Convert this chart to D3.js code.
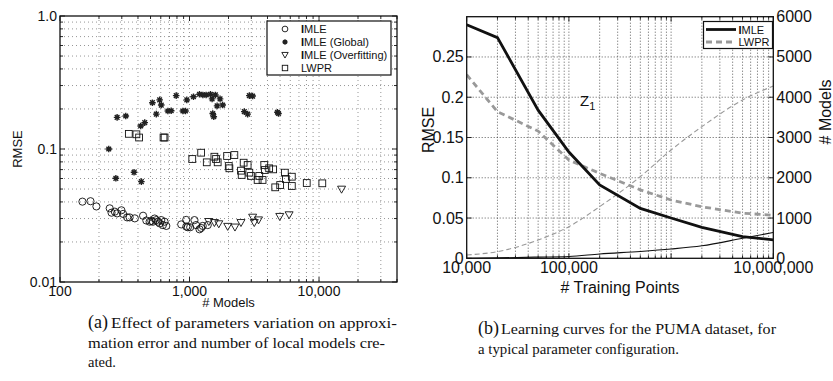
<!DOCTYPE html>
<html><head><meta charset="utf-8">
<script src="https://cdn.jsdelivr.net/npm/d3@7"></script>
<style>
body{margin:0;background:#fff;}
svg text{font-family:"Liberation Sans",Arial,sans-serif;fill:#111;}
svg text.cap{font-family:"Liberation Serif","Times New Roman",serif;}
</style></head><body>
<svg id="fig" width="833" height="381"></svg>
<script>
// ---------- panel (a): error vs number of local models ----------
const imlePoints = [[149,0.0402],[172,0.0405],[191,0.0370],[242,0.0358],[250,0.0332],[265,0.0338],[276,0.0328],[298,0.0346],[307,0.0325],[330,0.0306],[345,0.0306],[378,0.0301],[438,0.0315],[464,0.0290],[492,0.0284],[507,0.0288],[522,0.0284],[538,0.0300],[554,0.0292],[571,0.0284],[588,0.0276],[605,0.0292],[623,0.0268],[642,0.0284],[662,0.0264],[863,0.0271],[944,0.0261],[943,0.0293],[971,0.0258],[1012,0.0258],[1092,0.0292],[1124,0.0268],[1194,0.0249],[1230,0.0255],[1265,0.0264],[1383,0.0268]];
const globalPoints = [[238,0.100],[270,0.0602],[276,0.173],[322,0.177],[373,0.0668],[425,0.0568],[420,0.149],[451,0.158],[517,0.223],[554,0.183],[588,0.234],[605,0.214],[681,0.193],[722,0.194],[789,0.252],[889,0.193],[931,0.193],[953,0.234],[1073,0.247],[1194,0.258],[1268,0.255],[1344,0.255],[1451,0.258],[1494,0.238],[1511,0.185],[1539,0.175],[1585,0.255],[1633,0.211],[1721,0.238],[1804,0.214],[2649,0.191],[2811,0.183],[2897,0.252],[3072,0.250],[4775,0.189],[4864,0.185]];
const overfitPoints = [[1409,0.0284],[1556,0.0279],[1683,0.0273],[1972,0.0261],[2244,0.0258],[2497,0.0279],[3072,0.0306],[3162,0.0279],[3412,0.0292],[4977,0.0310],[5875,0.0319],[14930,0.0497]];
const lwprPoints = [[340,0.130],[389,0.129],[408,0.122],[630,0.122],[642,0.122],[1050,0.0841],[1230,0.0938],[1359,0.0794],[1556,0.0875],[1603,0.0841],[1650,0.0794],[1950,0.0886],[2009,0.0745],[2032,0.0716],[2219,0.0901],[2497,0.0687],[2528,0.0638],[2618,0.0789],[2811,0.0758],[2897,0.0664],[2982,0.0627],[3357,0.0585],[3456,0.0627],[3664,0.0585],[3776,0.0758],[3820,0.0695],[4121,0.0716],[4425,0.0703],[4590,0.0515],[5012,0.0536],[5445,0.0664],[5546,0.0595],[6166,0.0619],[6166,0.0527],[8040,0.0555],[10600,0.0552]];
const modelTicks = [100, 1000, 10000];
const modelTickLabels = ["100", "1,000", "10,000"];
const rmseLogTicks = [0.01, 0.1, 1];
const rmseLogTickLabels = ["0.01", "0.1", "1.0"];
const legendA = [
  {name: "MLE", shape: "circle"},
  {name: "MLE (Global)", shape: "star"},
  {name: "MLE (Overfitting)", shape: "triangle"},
  {name: "LWPR", shape: "square"}
];

// ---------- panel (b): learning curves ----------
const trainingPoints = [1e4, 2e4, 5e4, 1e5, 2e5, 5e5, 1e6, 2e6, 5e6, 1e7];
const imleRmse  = [0.290, 0.274, 0.184, 0.132, 0.091, 0.062, 0.050, 0.0385, 0.027, 0.0228];
const lwprRmse  = [0.228, 0.182, 0.158, 0.122, 0.1055, 0.085, 0.0724, 0.064, 0.056, 0.0535];
const imleModels = [0, 10, 30, 45, 108, 170, 230, 310, 497, 640];
const lwprModels = [83, 166, 455, 786, 1283, 2028, 2690, 3269, 3931, 4279];
const trainTicks = [1e4, 1e5, 1e7];
const trainTickLabels = ["10,000", "100,000", "10,000,000"];
const rmseTicks = [0, 0.05, 0.1, 0.15, 0.2, 0.25];
const rmseTickLabels = ["0", "0.05", "0.1", "0.15", "0.2", "0.25"];
const modelCountTicks = [0, 1000, 2000, 3000, 4000, 5000, 6000];

const svg = d3.select("#fig");

function minorLogTicks(lo, hi) {
  const out = [];
  for (let e = Math.floor(Math.log10(lo)); e <= Math.ceil(Math.log10(hi)); e++) {
    for (let m = 1; m <= 9; m++) {
      const v = m * Math.pow(10, e);
      if (v >= lo * 0.9999 && v <= hi * 1.0001) out.push(v);
    }
  }
  return out;
}

// ================= panel (a) =================
const A = {l: 60, r: 397, t: 16, b: 282};
const xA = d3.scaleLog().domain([100, 40000]).range([A.l, A.r]);
const yA = d3.scaleLog().domain([0.01, 1]).range([A.b, A.t]);
const gA = svg.append("g");

const xGridA = minorLogTicks(100, 40000);
const yGridA = minorLogTicks(0.01, 1);
gA.append("g").selectAll("line").data(xGridA.filter(v => v > 100 && v < 40000)).join("line")
  .attr("x1", d => xA(d)).attr("x2", d => xA(d)).attr("y1", A.t).attr("y2", A.b)
  .attr("stroke", "#8a8a8a").attr("stroke-width", 0.9).attr("stroke-dasharray", "1,3");
gA.append("g").selectAll("line").data(yGridA.filter(v => v > 0.01 && v < 1)).join("line")
  .attr("y1", d => yA(d)).attr("y2", d => yA(d)).attr("x1", A.l).attr("x2", A.r)
  .attr("stroke", "#8a8a8a").attr("stroke-width", 0.9).attr("stroke-dasharray", "1,3");

// inward ticks on all four sides
const tickA = gA.append("g").attr("stroke", "#111").attr("stroke-width", 0.9);
xGridA.forEach(v => {
  const len = modelTicks.includes(v) ? 5 : 3;
  tickA.append("line").attr("x1", xA(v)).attr("x2", xA(v)).attr("y1", A.b).attr("y2", A.b - len);
  tickA.append("line").attr("x1", xA(v)).attr("x2", xA(v)).attr("y1", A.t).attr("y2", A.t + len);
});
yGridA.forEach(v => {
  const len = rmseLogTicks.includes(v) ? 5 : 3;
  tickA.append("line").attr("y1", yA(v)).attr("y2", yA(v)).attr("x1", A.l).attr("x2", A.l + len);
  tickA.append("line").attr("y1", yA(v)).attr("y2", yA(v)).attr("x1", A.r).attr("x2", A.r - len);
});

// marker shapes
function drawMarker(g, shape, x, y, s) {
  s = s || 1;
  if (shape === "circle") {
    g.append("circle").attr("cx", x).attr("cy", y).attr("r", 3.6 * s)
      .attr("fill", "none").attr("stroke", "#111").attr("stroke-width", 0.9);
  } else if (shape === "square") {
    const h = 3.4 * s;
    g.append("rect").attr("x", x - h).attr("y", y - h).attr("width", 2 * h).attr("height", 2 * h)
      .attr("fill", "none").attr("stroke", "#111").attr("stroke-width", 0.9);
  } else if (shape === "triangle") {
    const h = 4 * s;
    g.append("path").attr("d", `M${x - h},${y - h * 0.8}L${x + h},${y - h * 0.8}L${x},${y + h * 0.95}Z`)
      .attr("fill", "none").attr("stroke", "#111").attr("stroke-width", 0.9);
  } else if (shape === "star") {
    const h = 3.3 * s;
    let d = "";
    for (let k = 0; k < 4; k++) {
      const a = k * Math.PI / 4;
      d += `M${x - h * Math.cos(a)},${y - h * Math.sin(a)}L${x + h * Math.cos(a)},${y + h * Math.sin(a)}`;
    }
    g.append("path").attr("d", d).attr("stroke", "#222").attr("stroke-width", 1.4).attr("fill", "none");
    g.append("circle").attr("cx", x).attr("cy", y).attr("r", 1.8 * s).attr("fill", "#222");
  }
}

const marks = gA.append("g");
imlePoints.forEach(p => drawMarker(marks, "circle", xA(p[0]), yA(p[1])));
overfitPoints.forEach(p => drawMarker(marks, "triangle", xA(p[0]), yA(p[1])));
lwprPoints.forEach(p => drawMarker(marks, "square", xA(p[0]), yA(p[1])));
globalPoints.forEach(p => drawMarker(marks, "star", xA(p[0]), yA(p[1])));

// frame
gA.append("rect").attr("x", A.l).attr("y", A.t).attr("width", A.r - A.l).attr("height", A.b - A.t)
  .attr("fill", "none").attr("stroke", "#111").attr("stroke-width", 1.3);

// tick labels
gA.append("g").selectAll("text").data(modelTicks).join("text")
  .attr("x", d => xA(d)).attr("y", A.b + 14).attr("text-anchor", "middle")
  .attr("font-size", 14).text((d, i) => modelTickLabels[i]);
gA.append("g").selectAll("text").data(rmseLogTicks).join("text")
  .attr("x", A.l - 3).attr("y", d => yA(d) + 5).attr("text-anchor", "end")
  .attr("font-size", 14).text((d, i) => rmseLogTickLabels[i]);
gA.append("text").attr("x", (A.l + A.r) / 2).attr("y", A.b + 25).attr("text-anchor", "middle")
  .attr("font-size", 13).text("# Models");
gA.append("text").attr("transform", `translate(22,${(A.t + A.b) / 2}) rotate(-90)`)
  .attr("text-anchor", "middle").attr("font-size", 13).text("RMSE");

// legend
const legA = gA.append("g");
legA.append("rect").attr("x", 267).attr("y", 21).attr("width", 124).attr("height", 54)
  .attr("fill", "#fff").attr("stroke", "#111").attr("stroke-width", 1.2);
legendA.forEach((e, i) => {
  const y = 29 + i * 13;
  drawMarker(legA, e.shape, 285, y, 0.8);
  const t = legA.append("text").attr("x", 301).attr("y", y + 4).attr("font-size", 11);
  if (e.shape !== "square") {
    t.append("tspan").attr("font-weight", "bold").text("I");
  }
  t.append("tspan").text(e.name);
});

// ================= panel (b) =================
const B = {l: 466.7, r: 773.3, t: 16.7, b: 258.3};
const xB = d3.scaleLog().domain([1e4, 1e7]).range([B.l, B.r]);
const yB = d3.scaleLinear().domain([0, 0.3]).range([B.b, B.t]);
const yB2 = d3.scaleLinear().domain([0, 6000]).range([B.b, B.t]);
const gB = svg.append("g");

const xGridB = minorLogTicks(1e4, 1e7);
gB.append("g").selectAll("line").data(xGridB.filter(v => v > 1e4 && v < 1e7)).join("line")
  .attr("x1", d => xB(d)).attr("x2", d => xB(d)).attr("y1", B.t).attr("y2", B.b)
  .attr("stroke", "#333").attr("stroke-width", 0.8).attr("stroke-dasharray", "1,2");
gB.append("g").selectAll("line").data(rmseTicks.filter(v => v > 0)).join("line")
  .attr("y1", d => yB(d)).attr("y2", d => yB(d)).attr("x1", B.l).attr("x2", B.r)
  .attr("stroke", "#333").attr("stroke-width", 0.8).attr("stroke-dasharray", "1,2");

const tickB = gB.append("g").attr("stroke", "#111").attr("stroke-width", 0.9);
xGridB.forEach(v => {
  const len = trainTicks.includes(v) || v === 1e6 ? 5 : 3;
  tickB.append("line").attr("x1", xB(v)).attr("x2", xB(v)).attr("y1", B.b).attr("y2", B.b - len);
  tickB.append("line").attr("x1", xB(v)).attr("x2", xB(v)).attr("y1", B.t).attr("y2", B.t + len);
});
rmseTicks.forEach(v => tickB.append("line").attr("y1", yB(v)).attr("y2", yB(v)).attr("x1", B.l).attr("x2", B.l + 5));
modelCountTicks.forEach(v => tickB.append("line").attr("y1", yB2(v)).attr("y2", yB2(v)).attr("x1", B.r).attr("x2", B.r - 5));

const lineR = d3.line().x((d, i) => xB(trainingPoints[i])).y(d => yB(d));
const lineM = d3.line().x((d, i) => xB(trainingPoints[i])).y(d => yB2(d)).curve(d3.curveMonotoneX);
gB.append("clipPath").attr("id", "clipB").append("rect")
  .attr("x", B.l).attr("y", B.t).attr("width", B.r - B.l).attr("height", B.b - B.t);
const curves = gB.append("g").attr("clip-path", "url(#clipB)");
curves.append("path").attr("d", lineM(lwprModels)).attr("fill", "none")
  .attr("stroke", "#999").attr("stroke-width", 1.1).attr("stroke-dasharray", "5,3");
curves.append("path").attr("d", lineM(imleModels)).attr("fill", "none")
  .attr("stroke", "#111").attr("stroke-width", 1.1);
curves.append("path").attr("d", lineR(lwprRmse)).attr("fill", "none")
  .attr("stroke", "#999").attr("stroke-width", 2.8).attr("stroke-dasharray", "6,4");
curves.append("path").attr("d", lineR(imleRmse)).attr("fill", "none")
  .attr("stroke", "#111").attr("stroke-width", 2.8);

gB.append("rect").attr("x", B.l).attr("y", B.t).attr("width", B.r - B.l).attr("height", B.b - B.t)
  .attr("fill", "none").attr("stroke", "#111").attr("stroke-width", 1.3);

gB.append("g").selectAll("text").data(trainTicks).join("text")
  .attr("x", d => xB(d)).attr("y", B.b + 15).attr("text-anchor", "middle")
  .attr("font-size", 16).text((d, i) => trainTickLabels[i]);
gB.append("g").selectAll("text").data(rmseTicks).join("text")
  .attr("x", B.l - 3).attr("y", d => yB(d) + 5.5).attr("text-anchor", "end")
  .attr("font-size", 16).text((d, i) => rmseTickLabels[i]);
gB.append("g").selectAll("text").data(modelCountTicks).join("text")
  .attr("x", B.r + 3).attr("y", d => yB2(d) + 5.5).attr("text-anchor", "start")
  .attr("font-size", 16).text(d => d);
gB.append("text").attr("x", (B.l + B.r) / 2).attr("y", B.b + 35).attr("text-anchor", "middle")
  .attr("font-size", 16).text("# Training Points");
gB.append("text").attr("transform", `translate(434,130) rotate(-90)`)
  .attr("text-anchor", "middle").attr("font-size", 16).text("RMSE");
gB.append("text").attr("transform", `translate(831,112) rotate(-90)`)
  .attr("text-anchor", "middle").attr("font-size", 16).text("# Models");
const z = gB.append("text").attr("x", 580).attr("y", 106).attr("font-size", 15);
z.append("tspan").text("Z");
z.append("tspan").attr("font-size", 11).attr("dy", 4).text("1");

// legend (b)
const legB = gB.append("g");
legB.append("rect").attr("x", 703.5).attr("y", 21.5).attr("width", 69).attr("height", 27)
  .attr("fill", "#fff").attr("stroke", "#111").attr("stroke-width", 1.2);
legB.append("line").attr("x1", 706).attr("x2", 736).attr("y1", 29.5).attr("y2", 29.5)
  .attr("stroke", "#111").attr("stroke-width", 2.8);
legB.append("line").attr("x1", 706).attr("x2", 736).attr("y1", 42).attr("y2", 42)
  .attr("stroke", "#999").attr("stroke-width", 2.8).attr("stroke-dasharray", "6,4");
const lt1 = legB.append("text").attr("x", 738.5).attr("y", 33.5).attr("font-size", 11);
lt1.append("tspan").attr("font-weight", "bold").text("I");
lt1.append("tspan").text("MLE");
legB.append("text").attr("x", 738.5).attr("y", 46).attr("font-size", 11).text("LWPR");

// ================= captions =================
function caption(x, y, label, lines, widths) {
  svg.append("text").attr("class", "cap").attr("x", x).attr("y", y).attr("font-size", 18).text(label);
  lines.forEach((s, i) => {
    const t = svg.append("text").attr("class", "cap").attr("font-size", 14.5)
      .attr("x", i === 0 ? x + 23 : x).attr("y", y + i * 19.5).text(s);
    if (widths && widths[i]) t.attr("textLength", widths[i]).attr("lengthAdjust", "spacingAndGlyphs");
  });
}
caption(88, 328, "(a)", ["Effect of parameters variation on approxi-", "mation error and number of local models cre-", "ated."], [286, 297, null]);
caption(478, 334, "(b)", ["Learning curves for the PUMA dataset, for", "a typical parameter configuration."], [275, 201]);
</script>
</body></html>
